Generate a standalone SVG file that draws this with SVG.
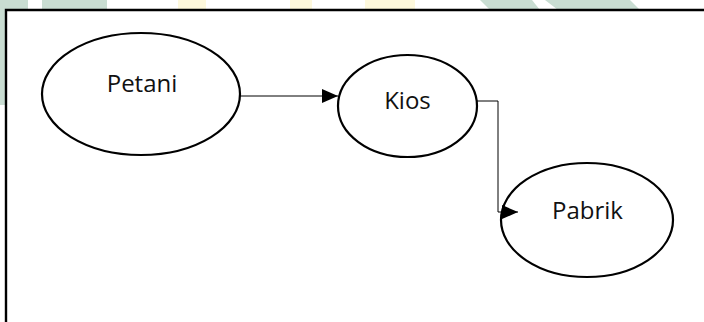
<svg xmlns="http://www.w3.org/2000/svg" width="704" height="322" viewBox="0 0 704 322">
  <defs>
    <style>
      .node ellipse { fill: #ffffff; stroke: #000000; stroke-width: 2.2; }
      .node text { font-family: "Open Sans", "Liberation Sans", sans-serif; font-size: 24px; fill: #111111; text-anchor: middle; }
      .link { fill: none; stroke: #000000; stroke-width: 1; }
      .frame { fill: none; stroke: #000000; stroke-width: 2.4; }
      .wm-g { fill: #c9ddd2; }
      .wm-y { fill: #fdf8dc; }
    </style>
    <marker id="arrow" viewBox="0 0 16 14" refX="16" refY="7" markerWidth="16" markerHeight="14" markerUnits="userSpaceOnUse" orient="auto">
      <path d="M0,0 L16,7 L0,14 Z" fill="#000000"/>
    </marker>
  </defs>

  <rect x="0" y="0" width="704" height="322" fill="#ffffff"/>

  <!-- background watermark band -->
  <g id="watermark">
    <rect class="wm-g" x="0" y="0" width="28" height="10"/>
    <rect class="wm-g" x="42" y="0" width="65" height="10"/>
    <rect class="wm-g" x="0" y="10" width="5" height="95"/>
    <rect class="wm-y" x="178" y="0" width="28" height="10"/>
    <rect class="wm-y" x="290" y="0" width="22" height="10"/>
    <rect class="wm-y" x="365" y="0" width="50" height="10"/>
    <polygon class="wm-g" points="480,0 532,0 540,10 490,10"/>
    <polygon class="wm-g" points="545,0 630,0 640,10 558,10"/>
  </g>

  <!-- outer frame (open on the right and bottom) -->
  <path class="frame" d="M6,322 L6,10 L704,10"/>

  <g id="petani" class="node">
    <ellipse cx="141" cy="94" rx="99" ry="61"/>
    <text x="142" y="92">Petani</text>
  </g>

  <g id="kios" class="node">
    <ellipse cx="407.5" cy="106" rx="69.5" ry="51"/>
    <text x="407.5" y="109">Kios</text>
  </g>

  <g id="pabrik" class="node">
    <ellipse cx="587" cy="220" rx="86" ry="57"/>
    <text x="587.5" y="219">Pabrik</text>
  </g>

  <!-- connectors drawn last so arrowheads sit over the ellipse outlines -->
  <g id="connectors">
    <path class="link" d="M240,96 L338,96" marker-end="url(#arrow)"/>
    <path class="link" d="M477,101 L498,101 L498,212 L518,212" marker-end="url(#arrow)"/>
  </g>
</svg>
